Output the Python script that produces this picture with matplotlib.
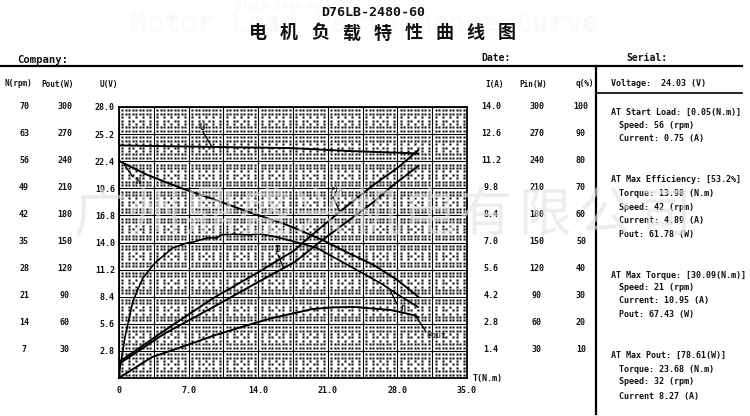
import numpy as np
import matplotlib
matplotlib.use("Agg")
import matplotlib.pyplot as plt
from matplotlib.lines import Line2D

# axis columns
u_ticks = [2.8, 5.6, 8.4, 11.2, 14.0, 16.8, 19.6, 22.4, 25.2, 28.0]
t_ticks = [0, 7.0, 14.0, 21.0, 28.0, 35.0]
speed_col = [7, 14, 21, 28, 35, 42, 49, 56, 63, 70]
pout_col = [30, 60, 90, 120, 150, 180, 210, 240, 270, 300]
current_col = [1.4, 2.8, 4.2, 5.6, 7.0, 8.4, 9.8, 11.2, 12.6, 14.0]
pin_col = [30, 60, 90, 120, 150, 180, 210, 240, 270, 300]
eff_col = [10, 20, 30, 40, 50, 60, 70, 80, 90, 100]

# curves
t_u = [0.05, 9.7, 17.2, 23.2, 30.09]
u_v = [24.03, 23.87, 23.76, 23.45, 23.2]

t_n = [0.05, 2.9, 6.3, 9.7, 13.0, 16.4, 17.7, 20.5, 22.9, 25.6, 28.0, 30.09]
n_rpm = [56, 52.4, 49, 46, 42.9, 40, 38.7, 35.6, 32.5, 29.2, 25.3, 21]

t_eff = [0.05, 0.1, 0.6, 1.4, 2.4, 3.6, 5.4, 6.8, 7.5, 8.9, 9.9, 10.2, 11.4, 13.2, 14.0,
         15.4, 18.2, 19.9, 23.9, 26.3, 28.6, 30.09]
eff_pct = [0, 3.7, 15, 28.4, 36.9, 42.4, 48, 49.8, 50.2, 51.7, 51.7, 52.8, 53.1, 52.8, 53.2,
           52.4, 49.8, 48, 39.9, 35, 29.5, 26.2]

t_pin = [0.05, 4.9, 9.5, 14.0, 17.7, 18.5, 22.2, 25.6, 28.0, 30.09]
pin_w = [18, 55, 88.6, 117, 141.7, 150, 184, 213.7, 232.5, 252]

t_i = [0.05, 4.6, 9.5, 14.0, 17.7, 20.2, 22.9, 25.6, 27.6, 30.09]
i_a = [0.75, 2.3, 3.67, 4.96, 6.0, 7.03, 8.06, 9.09, 9.97, 10.95]

t_pout = [0.05, 3.3, 6.3, 9.7, 13.0, 15.4, 17.7, 19.5, 21.5, 23.68, 27.3, 29.6, 30.09]
pout_w = [0.5, 23, 34.3, 47.6, 58.7, 66.4, 72, 76.4, 78.2, 78.61, 75.3, 69.7, 67.43]

mono = "DejaVu Sans Mono"
cjk = "Noto Sans CJK SC"

fig = plt.figure(figsize=(7.5, 4.16), dpi=100, facecolor="white")


def px(x, y):
    return x / 750, 1 - y / 416


def label(x, y, s, size=6, ha="center", **kw):
    fx, fy = px(x, y)
    kw.setdefault("family", mono)
    kw.setdefault("weight", "bold")
    fig.text(fx, fy, s, fontsize=size, ha=ha, va="center", color=kw.pop("color", "#111111"), **kw)


def rule(x0, y0, x1, y1, lw=1.0, color="black"):
    a, b = px(x0, y0), px(x1, y1)
    fig.add_artist(Line2D([a[0], b[0]], [a[1], b[1]], lw=lw, color=color, transform=fig.transFigure, zorder=2))


# faint ghosting from the scan
label(278, 7, "D76LB-2480-60", size=8, color="#f8f8f8", zorder=0)
label(365, 24, "Motor Load Performance Curve", size=20, color="#fafafa", zorder=0)

# plot area
ax = fig.add_axes([119 / 750, 1 - 378 / 416, 348 / 750, 271 / 416])
ax.set_xlim(0, 35)
ax.set_ylim(0, 28)
ax.patch.set_alpha(0)
ax.set_xticks(t_ticks)
ax.set_xticklabels(["0", "7.0", "14.0", "21.0", "28.0", "35.0"], family=mono, weight="bold", fontsize=6, color="#111111")
ax.set_yticks(u_ticks)
ax.set_yticklabels([f"{v:.1f}" for v in u_ticks], family=mono, weight="bold", fontsize=6, color="#111111")
ax.tick_params(length=0, pad=3)
ax.tick_params(axis="x", pad=6)
ax.set_xticks(np.arange(3.5, 35, 7), minor=True)
ax.tick_params(which="minor", length=0)
ax.grid(True, which="both", axis="x", color="black", lw=0.8)
ax.grid(True, which="major", axis="y", color="black", lw=0.8)
ax.set_axisbelow(True)
for s in ax.spines.values():
    s.set_linewidth(1.3)

# dot texture inside every cell
cols = np.arange(1, 10) / 10
pattern = {
    1: cols,
    2: cols,
    3: cols[[0, 2, 4, 6, 8]],
    4: cols[[0, 2, 3, 5, 6, 8]],
    5: cols[[0, 2, 4, 6, 8]],
    6: cols,
    7: cols,
}
dx, dy = [], []
for i in range(10):
    for j in range(10):
        for row, xs in pattern.items():
            dx.extend((i + xs) * 3.5)
            dy.extend([(j + row / 8) * 2.8] * len(xs))
dots = ax.scatter(dx, dy, s=2.2, marker="s", color="#111111", linewidths=0, zorder=1)
dots.set_snap(False)

# curves, all drawn on the 0-28 scale
curve_kw = dict(color="black", lw=1.4, zorder=3, solid_joinstyle="round")
ax.plot(t_u, u_v, **curve_kw)
ax.plot(t_n, np.array(n_rpm) * 0.4, **curve_kw)
ax.plot(t_eff, np.array(eff_pct) * 0.28, **{**curve_kw, "lw": 1.2})
ax.plot(t_pin, np.array(pin_w) * 28 / 300, **curve_kw)
ax.plot(t_i, np.array(i_a) * 2, **curve_kw)
ax.plot(t_pout, np.array(pout_w) * 28 / 300, **curve_kw)

# curve names with their leaders
for seg in [(203, 132, 212, 147), (123, 163, 133, 177), (333, 197, 340, 212),
            (278, 255, 283, 267), (390, 290, 397, 304), (415, 315, 425, 330)]:
    rule(*seg, lw=0.9)
label(202, 127, "U", size=6)
label(138, 181, "N", size=6)
label(337, 190, "Pin", size=5, weight="normal")
label(277, 249, "I", size=6)
label(403, 307, "η", size=6)
label(436, 335, "Pout", size=6, weight="normal")

# titles and header
label(373, 13, "D76LB-2480-60", size=9.5)
for n, ch in enumerate("电机负载特性曲线图"):
    label(258 + n * 31.1, 33, ch, size=13, family=cjk, weight="bold")
label(17, 60, "Company:", size=7.7, ha="left")
label(481, 58, "Date:", size=7, ha="left")
label(626, 58, "Serial:", size=7, ha="left")
rule(0, 66, 742, 66, lw=1.6)
rule(596, 66, 596, 414, lw=1.6)
rule(596, 93, 742, 93, lw=1.2)

# value columns
for x, s in [(18, "N(rpm)"), (58, "Pout(W)"), (109, "U(V)"), (495, "I(A)"), (533, "Pin(W)"), (585, "q(%)")]:
    label(x, 84, s, size=5.6)
for k in range(10):
    y = 350 - k * 27.1
    label(24, y, str(speed_col[k]))
    label(65, y, str(pout_col[k]))
    label(491, y, f"{current_col[k]:.1f}")
    label(537, y, str(pin_col[k]))
    label(581, y, str(eff_col[k]))
label(473, 378, "T(N.m)", ha="left")

# summary panel
panel = [
    (611, 84, "Voltage:  24.03 (V)"),
    (611, 112, "AT Start Load: [0.05(N.m)]"),
    (619, 125, "Speed: 56 (rpm)"),
    (619, 139, "Current: 0.75 (A)"),
    (611, 180, "AT Max Efficiency: [53.2%]"),
    (619, 194, "Torque: 13.98 (N.m)"),
    (619, 207, "Speed: 42 (rpm)"),
    (619, 220, "Current: 4.89 (A)"),
    (619, 234, "Pout: 61.78 (W)"),
    (611, 275, "AT Max Torque: [30.09(N.m)]"),
    (619, 288, "Speed: 21 (rpm)"),
    (619, 301, "Current: 10.95 (A)"),
    (619, 315, "Pout: 67.43 (W)"),
    (611, 355, "AT Max Pout: [78.61(W)]"),
    (619, 369, "Torque: 23.68 (N.m)"),
    (619, 382, "Speed: 32 (rpm)"),
    (619, 396, "Current 8.27 (A)"),
]
for x, y, s in panel:
    label(x, y, s, ha="left")

# watermark lies over everything
for n, ch in enumerate("广州鼎盛兴机电有限公司"):
    wx = 100 + 55 * n if n <= 7 else 485 + 60 * (n - 7)
    fx, fy = px(wx, 215)
    fig.text(fx, fy, ch, fontsize=38, family=cjk, ha="center", va="center",
             color="#e2e2e2", alpha=0.6, zorder=10)

fig.savefig("out.png", dpi=100)
